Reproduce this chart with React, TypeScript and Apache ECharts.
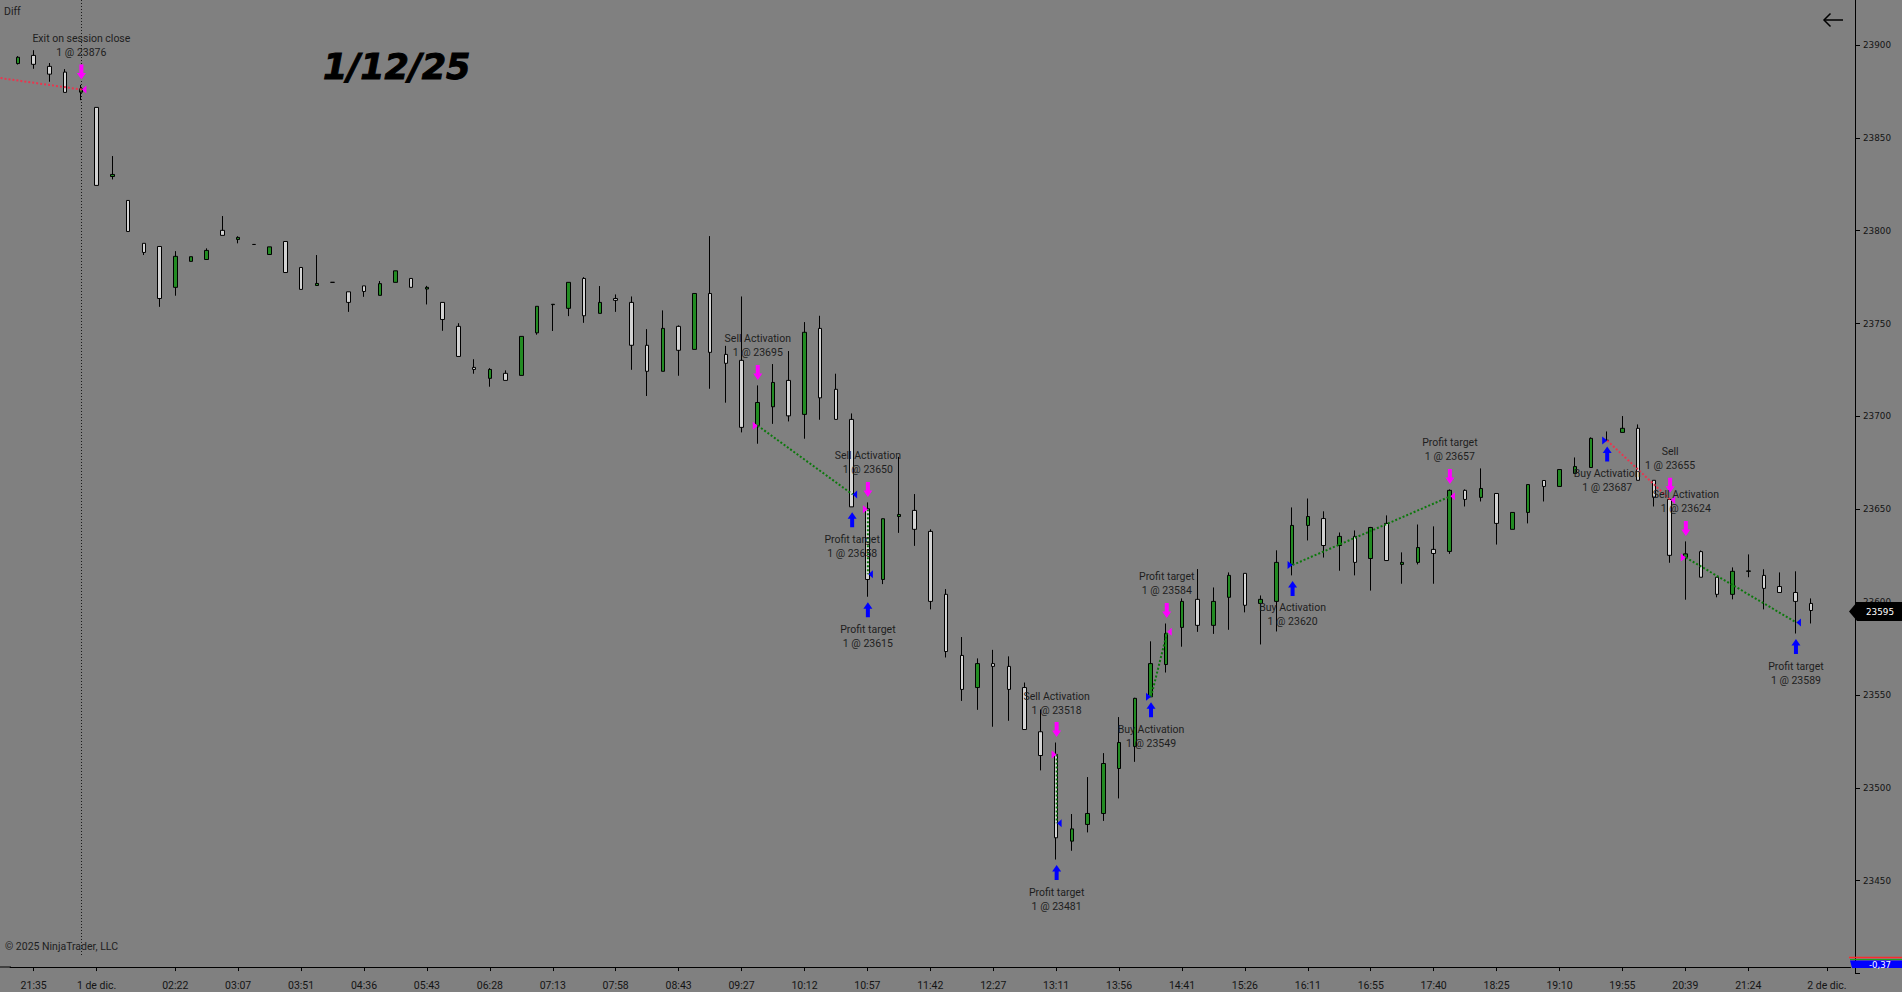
import React, { useEffect, useRef } from "react";
import * as echarts from "echarts";

// ---- candle data (bar index 0..114) ----
const opens = [
  23890, 23894.4, 23888.5, 23885.4, 23874.6, 23866.4, 23829.2, 23816.3, 23793.2, 23791.5,
  23769.5, 23783.5, 23784.5, 23800.2, 23795.3, 23792.6, 23787.2, 23794.2, 23780.2, 23770.5,
  23772.2, 23767.1, 23770.3, 23765.2, 23772.2, 23774.3, 23768.6, 23761.4, 23748.5, 23726.4,
  23720.5, 23723.2, 23722.1, 23745, 23760.2, 23758.2, 23774.3, 23755.5, 23763.5, 23761.4,
  23738.3, 23724.3, 23748.5, 23736.1, 23766.2, 23733.4, 23730.2, 23695.1, 23705.2, 23719.4,
  23701.1, 23747.4, 23714.6, 23698.4, 23650.3, 23612.2, 23646.1, 23649.4, 23638.1, 23604.2,
  23571.3, 23554, 23566.9, 23565.4, 23554, 23530.2, 23518, 23471.3, 23480.3, 23486.2,
  23510.4, 23522.3, 23549, 23566.4, 23586.4, 23601.5, 23587.5, 23602.6, 23615.5, 23599.3,
  23600.4, 23620.3, 23641.3, 23645, 23630.5, 23635.4, 23623.5, 23642.4, 23620.3, 23621.4,
  23628.4, 23627.3, 23660.2, 23656.4, 23658.5, 23639.2, 23648.3, 23665.5, 23662.3, 23669.3,
  23672.5, 23687.2, 23691.4, 23693.6, 23665.6, 23655.3, 23624.1, 23627.2, 23613.4, 23604.2,
  23616.6, 23614.4, 23608.4, 23605.2, 23599.3,
];
const closes = [
  23893.4, 23889.6, 23884.3, 23874.5, 23876.4, 23824.4, 23830.3, 23799.6, 23788.3, 23763.5,
  23786.2, 23786, 23789.4, 23797.5, 23796.4, 23792.6, 23791.3, 23777.5, 23768.4, 23771.6,
  23772.2, 23761.4, 23767.3, 23771.5, 23778.4, 23769.5, 23769.5, 23752.2, 23732.3, 23725.3,
  23725.3, 23719.4, 23743.1, 23759.3, 23760.4, 23772.2, 23754.2, 23761.4, 23762.5, 23738.3,
  23724.3, 23747.4, 23735.6, 23766.2, 23734.5, 23728.6, 23694.1, 23707.5, 23718.3, 23700.3,
  23745.3, 23710, 23698.4, 23651.3, 23612.2, 23644.9, 23647.2, 23639.2, 23600.4, 23573.4,
  23553, 23566.9, 23565.4, 23553, 23531.4, 23517.4, 23473.1, 23477.9, 23486.2, 23513.1,
  23524.4, 23548.2, 23566.9, 23583.1, 23600.4, 23587.5, 23600.4, 23614.4, 23598.3, 23601.5,
  23621.4, 23641.3, 23646.1, 23630.5, 23635.4, 23621.4, 23640.2, 23622.4, 23621.4, 23629.4,
  23626.2, 23660.2, 23655.3, 23661.2, 23642.4, 23648.3, 23663.3, 23662.3, 23671.4, 23673,
  23688.2, 23687, 23693.6, 23665.6, 23656.4, 23625.2, 23626, 23613.4, 23604.2, 23616.6,
  23616.8, 23607.4, 23605.2, 23600.4, 23595.5,
];
const lows = [
  23889.5, 23887.2, 23880.2, 23874.5, 23870.3, 23824.4, 23827.6, 23799.6, 23786.9, 23759,
  23765, 23783.5, 23784.5, 23797.5, 23793.2, 23792.6, 23787.2, 23777.5, 23768.4, 23770.5,
  23772.2, 23756.3, 23764.4, 23765.2, 23772.2, 23769.5, 23760.3, 23746.1, 23732.3, 23723,
  23716, 23719.4, 23722.1, 23744, 23746, 23754, 23750.4, 23755.5, 23756.3, 23725.1,
  23711, 23724.3, 23721.9, 23736.1, 23714.9, 23707.4, 23691.4, 23685.3, 23696, 23697.3,
  23688, 23698.2, 23698.4, 23651.3, 23602.9, 23609.7, 23637.3, 23630.3, 23596.1, 23570.2,
  23546.8, 23542, 23532.9, 23536.1, 23531.4, 23509.4, 23461.4, 23466.1, 23476, 23482.2,
  23494.3, 23514, 23549, 23562.1, 23576, 23584, 23582.9, 23585.1, 23594.5, 23577.2,
  23584.2, 23614.4, 23633.2, 23624, 23616.9, 23614.4, 23606.2, 23622.4, 23609.9, 23620.3,
  23609.9, 23626, 23651.5, 23654.2, 23631, 23639.2, 23642.4, 23654.2, 23662.3, 23669.3,
  23672.5, 23686.8, 23691.4, 23665.6, 23651.5, 23621.2, 23601.3, 23613.4, 23602.6, 23601.5,
  23613.4, 23596.1, 23605.2, 23583.1, 23588.5,
];
const highs = [
  23894, 23897.2, 23890.3, 23887, 23878.5, 23866.4, 23840.2, 23816.3, 23793.2, 23791.5,
  23789, 23786, 23790.5, 23807.9, 23797, 23792.6, 23791.3, 23794.2, 23780.2, 23786.9,
  23772.2, 23767.1, 23770.3, 23772.9, 23778.4, 23774.3, 23770.3, 23761.4, 23750.2, 23730.8,
  23726, 23724.8, 23743.1, 23759.3, 23760.5, 23772.2, 23775, 23770.2, 23765.7, 23764.6,
  23747, 23757.1, 23749, 23766.2, 23797.1, 23738, 23764.6, 23716.7, 23728.2, 23735.2,
  23750.8, 23754.2, 23723, 23701.6, 23653.7, 23645, 23678.2, 23658.2, 23639.2, 23607,
  23581.2, 23569.7, 23574.3, 23570.8, 23556.7, 23542.2, 23524.4, 23485.9, 23505.8, 23518.7,
  23538.1, 23548.5, 23578.9, 23588.5, 23602, 23617.8, 23607.9, 23616, 23615.5, 23603.6,
  23627.9, 23651, 23655.8, 23648.9, 23637.5, 23638.6, 23640.5, 23646.7, 23626.8, 23641.8,
  23640.8, 23660.7, 23660.7, 23672, 23658.5, 23648.3, 23663.3, 23665.5, 23671.4, 23677.9,
  23688.7, 23691.9, 23700.2, 23695.7, 23665.6, 23656, 23632.7, 23627.8, 23613.4, 23618.7,
  23625.7, 23617.7, 23616, 23616.6, 23602,
];
const slotCount = 117; // bars plus empty future slots
const lastPrice = 23595;
const sessionBreakBar = 4;

// ---- time axis ----
const timeTickBars = [1, 5, 10, 14, 18, 22, 26, 30, 34, 38, 42, 46, 50, 54, 58, 62, 66, 70, 74, 78, 82, 86, 90, 94, 98, 102, 106, 110, 115];
const timeTickLabels = [
  "21:35", "1 de dic.", "02:22", "03:07", "03:51", "04:36", "05:43", "06:28", "07:13", "07:58",
  "08:43", "09:27", "10:12", "10:57", "11:42", "12:27", "13:11", "13:56", "14:41", "15:26",
  "16:11", "16:55", "17:40", "18:25", "19:10", "19:55", "20:39", "21:24", "2 de dic.",
];

// ---- executions ----
const execBars = [4, 47, 53, 54, 54, 66, 66, 72, 73, 81, 91, 101, 105, 106, 113];
const execPrices = [23876, 23695, 23658, 23650, 23615, 23518, 23481, 23549, 23584, 23620, 23657, 23687, 23655, 23624, 23589];
const execSides = ["sell", "sell", "buy", "sell", "buy", "sell", "buy", "buy", "sell", "buy", "sell", "buy", "sell", "sell", "buy"];
const execRoles = ["exit", "entry", "exit", "entry", "exit", "entry", "exit", "entry", "exit", "entry", "exit", "entry", "exit", "entry", "exit"];
const execNames = [
  "Exit on session close", "Sell Activation", "Profit target", "Sell Activation", "Profit target",
  "Sell Activation", "Profit target", "Buy Activation", "Profit target", "Buy Activation",
  "Profit target", "Buy Activation", "Sell", "Sell Activation", "Profit target",
];

// ---- trades (entry -> exit) ----
const tradeEntryBars = [-1.14, 47, 54, 66, 72, 81, 101, 106];
const tradeEntryPrices = [23882.2, 23695, 23650, 23518, 23549, 23620, 23687, 23624];
const tradeExitBars = [4, 53, 54, 66, 73, 91, 105, 113];
const tradeExitPrices = [23876, 23658, 23615, 23481, 23584, 23657, 23655, 23589];
const tradeWins = [false, true, true, true, true, true, false, true];

const BG = "#808080";
const UP = "#228b22";
const DOWN = "#d3d3d3";
const MAGENTA = "#ff00ff";
const BLUE = "#0000ff";
const TEXT = "#1e1e1e";

export default function App() {
  const ref = useRef<HTMLDivElement>(null);

  useEffect(() => {
    document.body.style.margin = "0";
    if (!ref.current) return;
    const chart = echarts.init(ref.current, undefined, { renderer: "svg" });

    const cats = Array.from({ length: slotCount }, (_, i) => String(i));
    const labelMap = new Map<number, string>();
    timeTickBars.forEach((b, k) => labelMap.set(b, timeTickLabels[k]));

    const candles = opens.map((o, i) => [o, closes[i], lows[i], highs[i]]);

    chart.setOption({
      animation: false,
      backgroundColor: BG,
      grid: {
        left: 10.1,
        width: 1840.4,
        top: -47.85,
        height: 1021.4,
        containLabel: false,
        outerBoundsMode: "none",
      },
      xAxis: {
        type: "category",
        data: cats,
        boundaryGap: true,
        offset: -6.5,
        axisLine: { show: true, lineStyle: { color: "#000", width: 1 } },
        axisTick: {
          show: true,
          alignWithLabel: true,
          length: 4,
          interval: (i: number) => labelMap.has(i),
          lineStyle: { color: "#000" },
        },
        axisLabel: {
          interval: (i: number) => labelMap.has(i),
          formatter: (_v: string, i: number) => labelMap.get(i) ?? "",
          color: "#141414",
          fontFamily: "Roboto",
          fontSize: 10.5,
          margin: 12.5,
          hideOverlap: false,
        },
        splitLine: { show: false },
      },
      yAxis: {
        type: "value",
        position: "right",
        min: 23400,
        max: 23950,
        interval: 50,
        offset: 4.5,
        axisLine: { show: true, lineStyle: { color: "#000", width: 1 } },
        axisTick: { show: true, length: 5, lineStyle: { color: "#000" } },
        axisLabel: {
          formatter: (v: number) => (v >= 23450 && v <= 23900 ? String(v) : ""),
          color: "#141414",
          fontFamily: "DejaVu Sans",
          fontSize: 8.8,
          margin: 8,
          showMinLabel: true,
          showMaxLabel: true,
        },
        splitLine: { show: false },
      },
      series: [
        {
          type: "candlestick",
          data: candles,
          barWidth: 4,
          itemStyle: {
            color: UP,
            color0: DOWN,
            borderColor: "#000",
            borderColor0: "#000",
            borderColorDoji: "#000",
            borderWidth: 1,
          },
        },
      ],
    });

    const conv = (i: number, p: number) =>
      chart.convertToPixel({ gridIndex: 0 }, [i, p]) as number[];
    const a0 = conv(0, lastPrice);
    const a1 = conv(1, lastPrice);
    const band = a1[0] - a0[0];
    const cx = (i: number) => a0[0] + band * i;
    const cy = (p: number) => conv(0, p)[1];

    const els: any[] = [];
    const txt = (x: number, y: number, text: string, font: string, fill: string, align = "center", z = 70, extra: any = {}) => ({
      type: "text",
      x,
      y,
      z,
      silent: true,
      style: { text, font, fill, align, textAlign: align, verticalAlign: "middle", textVerticalAlign: "middle", ...extra },
    });

    // session break
    const sbx = Math.round(cx(sessionBreakBar)) + 0.5;
    els.push({
      type: "line",
      z: 1,
      silent: true,
      shape: { x1: sbx, y1: 0, x2: sbx, y2: 957 },
      style: { stroke: "#1a1a1a", lineWidth: 1, lineDash: [1, 2] },
    });
    // x axis line continuation on the left
    const axisY = 967;
    els.push({ type: "line", z: 5, silent: true, shape: { x1: 0, y1: axisY, x2: 11, y2: axisY }, style: { stroke: "#000", lineWidth: 1 } });

    // trade lines
    tradeEntryBars.forEach((eb, k) => {
      const x1 = cx(eb) + 0.5;
      const y1 = cy(tradeEntryPrices[k]);
      const sameBar = tradeExitBars[k] === eb;
      const x2 = cx(tradeExitBars[k]) + (sameBar ? 0.5 : 1);
      const y2 = cy(tradeExitPrices[k]);
      els.push({
        type: "line",
        z: 50,
        silent: true,
        shape: { x1: Math.max(0, x1), y1: x1 < 0 ? y1 + (y2 - y1) * ((0 - x1) / (x2 - x1)) : y1, x2, y2 },
        style: { stroke: tradeWins[k] ? "#0c780c" : "#e8364f", lineWidth: 2, lineDash: [2, 2] },
      });
    });

    // executions: triangles, arrows, texts
    execBars.forEach((b, k) => {
      const x = cx(b);
      const py = cy(execPrices[k]);
      const color = execSides[k] === "sell" ? MAGENTA : BLUE;
      if (execRoles[k] === "entry") {
        els.push({ type: "polygon", z: 60, silent: true, shape: { points: [[x - 4.5, py - 4], [x - 4.5, py + 4], [x + 0.5, py]] }, style: { fill: color } });
      } else {
        els.push({ type: "polygon", z: 60, silent: true, shape: { points: [[x + 1, py], [x + 5.5, py - 4], [x + 5.5, py + 4]] }, style: { fill: color } });
      }
      const ax = x + 0.5;
      const label2 = "1 @ " + execPrices[k];
      const font = "10.5px Roboto";
      if (execSides[k] === "sell") {
        const tip = cy(highs[b]) - 5.5;
        const top = tip - 15;
        els.push({
          type: "polygon", z: 60, silent: true,
          shape: { points: [[ax - 2, top], [ax + 2, top], [ax + 2, tip - 6.5], [ax + 4.5, tip - 6.5], [ax, tip], [ax - 4.5, tip - 6.5], [ax - 2, tip - 6.5]] },
          style: { fill: color },
        });
        els.push(txt(ax, top - 26, execNames[k], font, TEXT));
        els.push(txt(ax, top - 12, label2, font, TEXT));
      } else {
        const tip = cy(lows[b]) + 5.5;
        const bottom = tip + 15;
        els.push({
          type: "polygon", z: 60, silent: true,
          shape: { points: [[ax - 2, bottom], [ax + 2, bottom], [ax + 2, tip + 6.5], [ax + 4.5, tip + 6.5], [ax, tip], [ax - 4.5, tip + 6.5], [ax - 2, tip + 6.5]] },
          style: { fill: color },
        });
        els.push(txt(ax, bottom + 12, execNames[k], font, TEXT));
        els.push(txt(ax, bottom + 26, label2, font, TEXT));
      }
    });

    // titles & decorations
    els.push(txt(4, 11, "Diff", "10.5px Roboto", TEXT, "left"));
    els.push(txt(5, 946, "\u00a9 2025 NinjaTrader, LLC", "10.5px Roboto", TEXT, "left"));
    els.push(txt(323, 66.5, "1/12/25", "italic bold 35px 'DejaVu Sans'", "#000", "left", 70, { stroke: "#000", lineWidth: 1 }));
    els.push({ type: "polyline", z: 70, silent: true, shape: { points: [[1843, 20], [1824, 20]] }, style: { stroke: "#000", lineWidth: 1.5, fill: null } });
    els.push({ type: "polyline", z: 70, silent: true, shape: { points: [[1830.5, 13.5], [1824, 20], [1830.5, 26.5]] }, style: { stroke: "#000", lineWidth: 1.5, fill: null } });

    // last price marker
    const ly = cy(lastPrice);
    els.push({
      type: "polygon", z: 80, silent: true,
      shape: { points: [[1849, ly], [1857, ly - 9.5], [1902, ly - 9.5], [1902, ly + 9.5], [1857, ly + 9.5]] },
      style: { fill: "#000" },
    });
    els.push(txt(1880, ly + 0.5, String(lastPrice), "8.8px 'DejaVu Sans'", "#fff", "center", 81));

    // bottom-right indicator box
    els.push({ type: "line", z: 80, silent: true, shape: { x1: 1849, y1: 957.5, x2: 1902, y2: 957.5 }, style: { stroke: "#ff2a2a", lineWidth: 1.5 } });
    els.push({ type: "line", z: 80, silent: true, shape: { x1: 1850, y1: 959.5, x2: 1902, y2: 959.5 }, style: { stroke: "#1fa01f", lineWidth: 1 } });
    els.push({
      type: "polygon", z: 80, silent: true,
      shape: { points: [[1850, 960.5], [1902, 960.5], [1902, 968], [1852, 968]] },
      style: { fill: BLUE },
    });
    els.push(txt(1880, 965, "-0,37", "8.5px 'DejaVu Sans'", "#fff", "center", 81));

    chart.setOption({ graphic: { elements: els } });

    return () => chart.dispose();
  }, []);

  return (
    <div
      ref={ref}
      style={{ position: "fixed", left: 0, top: 0, width: 1902, height: 992, background: BG }}
    />
  );
}
